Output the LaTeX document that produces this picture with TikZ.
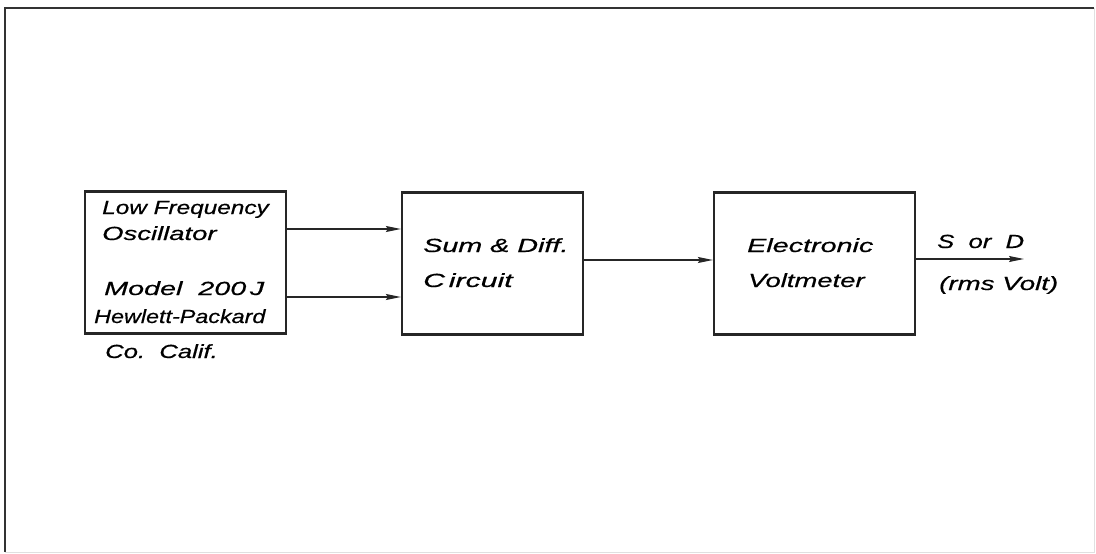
\documentclass[tikz,border=0pt]{standalone}
\usepackage{graphicx}
\usepackage{fontspec}
\setmainfont{Liberation Sans}
\newfontfamily\letterfont[FakeStretch=1.35,FakeBold=0.6]{Liberation Sans}
\newcommand\sxlbl[2]{\scalebox{#1}[1]{#2}}
\usetikzlibrary{arrows.meta}
\begin{document}
\begin{tikzpicture}[x=1pt,y=-1pt,
  blk/.style={draw=black!85,line width=2.2pt,minimum width=#1,minimum height=142pt,inner sep=0pt},
  lbl/.style={anchor=base west,inner sep=0pt,font=\letterfont\fontsize{19}{22}\selectfont\itshape},
  conn/.style={line width=1.4pt,draw=black!85,-{Stealth[length=15pt,width=6pt,inset=2pt]}},
  frame/.style={line width=2.4pt,draw=black!80}]
\useasboundingbox (0,0) rectangle (1096,554);
\draw[frame] (5,552) -- (5,8) -- (1094,8);
\draw[line width=1pt,draw=black!12] (1094,8) -- (1094,552) -- (5,552);
\node[blk=201pt] (osc) at (185.5,262.5) {};
\node[blk=181pt] (sd) at (492.5,263.5) {};
\node[blk=201pt] (vm) at (814.5,263.5) {};
\node[lbl] (t1) at (102,214) {\sxlbl{0.95}{Low Frequency}};
\node[lbl] (t2) at (102,240) {\sxlbl{1.07}{Oscillator}};
\node[lbl] (t3) at (104,295) {\sxlbl{1.12}{Model\ \ 200\,J}};
\node[lbl] (t4) at (94,323) {\sxlbl{0.91}{Hewlett-Packard}};
\node[lbl] (t5) at (105,358) {Co.\ \ Calif.};
\node[lbl] (t6) at (423,252) {\sxlbl{1.12}{Sum \& Diff.}};
\node[lbl] (t7) at (423,287) {\sxlbl{1.18}{C\,ircuit}};
\node[lbl] (t8) at (747,252) {\sxlbl{1.12}{Electronic}};
\node[lbl] (t9) at (748,287) {\sxlbl{1.07}{Voltmeter}};
\node[lbl] (t10) at (937,248) {S\ \ or\ \ D};
\node[lbl] (t11) at (939,290) {\sxlbl{1.08}{(rms Volt)}};
\coordinate (out) at (1024,259);
\draw[conn] (osc.east |- 0,229) -- (sd.west |- 0,229);
\draw[conn] (osc.east |- 0,297) -- (sd.west |- 0,297);
\draw[conn] (sd.east |- 0,260) -- (vm.west |- 0,260);
\draw[conn] (vm.east |- out) -- (out);
\end{tikzpicture}
\end{document}
